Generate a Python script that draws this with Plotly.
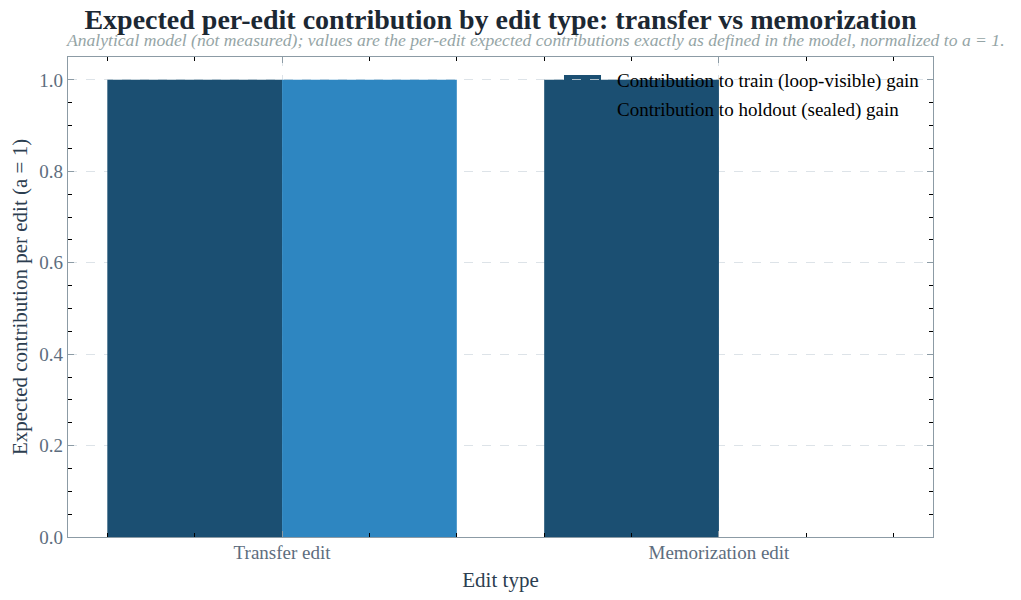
import plotly.graph_objects as go

# --- Dados ---
edit_types = ["Transfer edit", "Memorization edit"]
series_names = ["Contribution to train (loop-visible) gain",
                "Contribution to holdout (sealed) gain"]
train_gain = [1.0, 1.0]
holdout_gain = [1.0, 0.0]
colors = ["#1b4f72", "#2e86c1"]

FONT = "'Liberation Serif', 'Times New Roman', Times, serif"
x_pos = list(range(len(edit_types)))

# --- Gráfico ---
fig = go.Figure()
for name, vals, color in zip(series_names, [train_gain, holdout_gain], colors):
    fig.add_trace(go.Bar(x=x_pos, y=vals, name=name, marker_color=color,
                         marker_line_width=0, showlegend=False))

# a página tem margem de 8px no body, então as margens já compensam isso
fig.update_layout(
    barmode="group", bargap=0.2, bargroupgap=0,
    width=1021, height=600,
    margin=dict(l=60, r=96, t=49, b=71, autoexpand=False),
    paper_bgcolor="white", plot_bgcolor="white",
    font=dict(family=FONT, color="#5d6d7e"),
    title=dict(text="<b>Expected per-edit contribution by edit type: transfer vs memorization</b>",
               x=0.5, xref="paper", xanchor="center", y=0.982, yanchor="middle",
               font=dict(size=28, color="#1c2833", family=FONT)),
)

fig.add_annotation(
    text="<i>Analytical model (not measured); values are the per-edit expected contributions "
         "exactly as defined in the model, normalized to a = 1.</i>",
    xref="paper", yref="paper", x=-0.005, xanchor="left", y=1.035, yanchor="middle",
    showarrow=False, font=dict(size=17.6, color="#95a5a6", family=FONT))

axis_common = dict(
    showline=True, linecolor="#8c9ba5", linewidth=1.2, mirror="ticks",
    ticks="inside", ticklen=6, tickcolor="#8c9ba5", automargin=False,
    showgrid=True, gridcolor="#dde3e8", griddash="dash", gridwidth=1,
    zeroline=False, tickfont=dict(size=19, color="#5d6d7e", family=FONT),
)

fig.update_xaxes(
    **axis_common, range=[-0.49, 1.49], tickmode="array",
    tickvals=x_pos, ticktext=edit_types, ticklabelstandoff=-2,
    title=dict(text="Edit type", font=dict(size=21, color="#2c3e50", family=FONT), standoff=10),
    minor=dict(ticks="inside", dtick=0.2, tick0=0, ticklen=4, tickcolor="black", showgrid=False),
)
fig.update_yaxes(
    **axis_common, range=[0, 1.05], dtick=0.2, tickformat=".1f",
    title=dict(text="Expected contribution per edit (a = 1)",
               font=dict(size=21, color="#2c3e50", family=FONT), standoff=9),
    minor=dict(ticks="inside", dtick=0.05, tick0=0, ticklen=4, tickcolor="black", showgrid=False),
)

# --- Legenda desenhada à mão (fica atrás das barras) ---
sym_x0, sym_x1, txt_x = 0.5734, 0.6162, 0.6324
row_y = [0.949, 0.8906]
for name, color, yc in zip(series_names, colors, row_y):
    fig.add_shape(type="rect", xref="paper", yref="paper",
                  x0=sym_x0, x1=sym_x1, y0=yc - 0.0135, y1=yc + 0.0135,
                  fillcolor=color, line_width=0, layer="between")
    fig.add_annotation(text=name, xref="paper", yref="paper", x=txt_x, xanchor="left",
                       y=yc, yanchor="middle", showarrow=False,
                       font=dict(size=19, color="black", family=FONT))

fig.write_html("out.html")
